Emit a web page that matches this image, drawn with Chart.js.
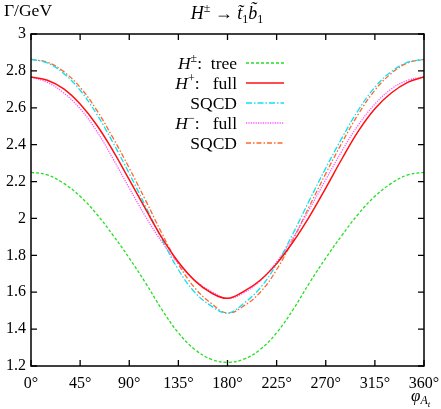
<!DOCTYPE html>
<html><head><meta charset="utf-8">
<script src="https://cdn.jsdelivr.net/npm/chart.js@4"></script>
<style>html,body{margin:0;padding:0;background:#fff}#wrap{width:441px;height:409px}</style>
</head><body><div id="wrap"><canvas id="c" width="441" height="409"></canvas></div>
<script>
const angles = [0,15,30,45,60,75,90,105,120,135,150,165,180,195,210,225,240,255,270,285,300,315,330,345,360];
const treeVals = [2.25,2.236,2.19,2.12,2.025,1.91,1.785,1.65,1.505,1.38,1.29,1.237,1.22,1.237,1.29,1.38,1.505,1.65,1.785,1.91,2.025,2.12,2.19,2.236,2.25];
const hpFull = [2.767,2.749,2.702,2.62,2.508,2.368,2.21,2.05,1.895,1.764,1.663,1.597,1.567,1.605,1.665,1.755,1.872,2.01,2.165,2.325,2.475,2.595,2.68,2.738,2.767];
const hpSqcd = [2.862,2.843,2.786,2.695,2.567,2.412,2.243,2.066,1.886,1.722,1.60,1.526,1.487,1.54,1.624,1.752,1.918,2.098,2.273,2.438,2.589,2.711,2.796,2.847,2.862];
const hmFull = [2.767,2.738,2.68,2.595,2.475,2.325,2.165,2.01,1.872,1.755,1.665,1.605,1.567,1.597,1.663,1.764,1.895,2.05,2.21,2.368,2.508,2.62,2.702,2.749,2.767];
const hmSqcd = [2.862,2.847,2.796,2.711,2.589,2.438,2.273,2.098,1.918,1.752,1.624,1.54,1.487,1.526,1.60,1.722,1.886,2.066,2.243,2.412,2.567,2.695,2.786,2.843,2.862];
const xTicks = [0,45,90,135,180,225,270,315,360];
const yTicks = [1.2,1.4,1.6,1.8,2,2.2,2.4,2.6,2.8,3];

const SERIF = 'Liberation Serif';
Chart.defaults.font.family = SERIF;
const series = [
  {label:'tree', sup:'±', sym:true, txt:':  tree', data:treeVals, color:'#22e022', dash:[3,2], w:1.3},
  {label:'full+', sup:'+', sym:true, txt:':   full', data:hpFull, color:'#ff1010', dash:[], w:1.5},
  {label:'sqcd+', sup:'', sym:false, txt:'SQCD', data:hpSqcd, color:'#10e0f0', dash:[6,2,1.5,2], w:1.3},
  {label:'full-', sup:'−', sym:true, txt:':   full', data:hmFull, color:'#ff50ff', dash:[1.2,1.2], w:1.3},
  {label:'sqcd-', sup:'', sym:false, txt:'SQCD', data:hmSqcd, color:'#ff6828', dash:[5,2,1.5,2], w:1.3}
];

function drawRich(ctx, parts, x, y, align){
  let total=0;
  parts.forEach(p=>{ctx.font=p[1]; total+=ctx.measureText(p[0]).width;});
  let cx = align==='right'? x-total : (align==='center'? x-total/2 : x);
  ctx.textAlign='left'; ctx.textBaseline='alphabetic';
  parts.forEach(p=>{ctx.font=p[1]; ctx.fillText(p[0], cx, y+(p[2]||0)); cx+=ctx.measureText(p[0]).width;});
}
const F = (s,it)=> (it?'italic ':'') + s + 'px "' + SERIF + '"';

const decor = {
  id:'decor',
  afterDraw(chart){
    const ctx=chart.ctx, a=chart.chartArea, xs=chart.scales.x, ys=chart.scales.y;
    ctx.save();
    ctx.strokeStyle='#000'; ctx.lineWidth=1.5; ctx.setLineDash([]);
    ctx.strokeRect(a.left,a.top,a.right-a.left,a.bottom-a.top);
    ctx.lineWidth=1.3;
    ctx.beginPath();
    xTicks.forEach(v=>{const px=xs.getPixelForValue(v); ctx.moveTo(px,a.bottom); ctx.lineTo(px,a.bottom-6); ctx.moveTo(px,a.top); ctx.lineTo(px,a.top+6);});
    yTicks.forEach(v=>{const py=ys.getPixelForValue(v); ctx.moveTo(a.left,py); ctx.lineTo(a.left+6,py); ctx.moveTo(a.right,py); ctx.lineTo(a.right-6,py);});
    ctx.stroke();
    ctx.fillStyle='#000';
    drawRich(ctx,[['Γ/GeV',F(17.5),0]],4,16,'left');
    drawRich(ctx,[['H',F(18,1),0],['±',F(12),-7],[' → ',F(18),0],['t\u0303',F(18,1),0],['1',F(12),4],['b\u0303',F(18,1),0],['1',F(12),4]],227,19,'center');
    drawRich(ctx,[['φ',F(17,1),0],['A',F(12,1),3],['t',F(9,1),6]],411,401,'left');
    const rows=[63,83,103,123,143];
    series.forEach((s,i)=>{
      const y=rows[i];
      ctx.fillStyle='#000';
      const parts = s.sym ? [['H',F(17.5,1),0],[s.sup,F(12),-7],[s.txt,F(17.5),0]] : [[s.txt,F(17.5),0]];
      drawRich(ctx,parts,237,y+6,'right');
      ctx.strokeStyle=s.color; ctx.lineWidth=s.w; ctx.setLineDash(s.dash);
      ctx.beginPath(); ctx.moveTo(246,y); ctx.lineTo(284,y); ctx.stroke();
    });
    ctx.restore();
  }
};

new Chart(document.getElementById('c'),{
  type:'line',
  data:{datasets:series.map(s=>({label:s.label,data:angles.map((a,i)=>({x:a,y:s.data[i]})),borderColor:s.color,borderWidth:s.w,borderDash:s.dash,pointRadius:0,fill:false,tension:0.4}))},
  options:{
    responsive:false, animation:false, devicePixelRatio:1,
    layout:{padding:{top:34,right:17,left:0,bottom:0}},
    plugins:{legend:{display:false},tooltip:{enabled:false},title:{display:false}},
    scales:{
      x:{type:'linear',min:0,max:360,
        afterBuildTicks:s=>{s.ticks=xTicks.map(v=>({value:v}));},
        afterFit:s=>{s.height=43; s.paddingLeft=0; s.paddingRight=0;},
        grid:{display:false,drawTicks:false},border:{display:false},
        ticks:{padding:8,color:'#000',font:{family:SERIF,size:16},callback:v=>v+'°',maxRotation:0,autoSkip:false}},
      y:{type:'linear',min:1.2,max:3,
        afterBuildTicks:s=>{s.ticks=yTicks.map(v=>({value:v}));},
        afterFit:s=>{s.width=31; s.paddingTop=0; s.paddingBottom=0;},
        grid:{display:false,drawTicks:false},border:{display:false},
        ticks:{padding:5,color:'#000',font:{family:SERIF,size:16},callback:v=>String(Number(v.toFixed(1)))}}
    }
  },
  plugins:[decor]
});
</script></body></html>
